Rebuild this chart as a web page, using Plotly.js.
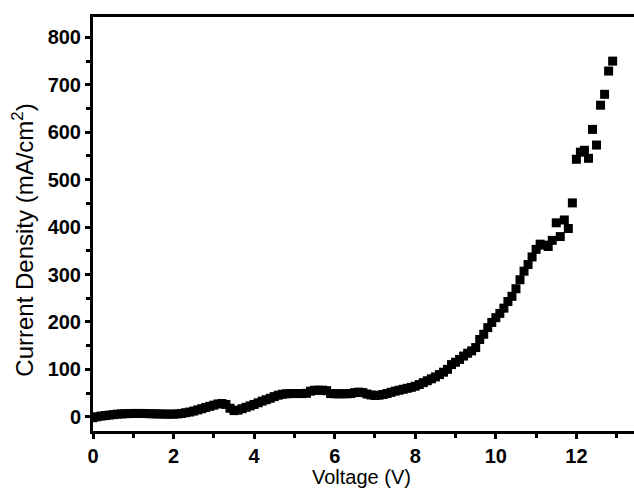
<!DOCTYPE html>
<html>
<head>
<meta charset="utf-8">
<script src="https://cdn.plot.ly/plotly-3.0.1.min.js"></script>
<style>html,body{margin:0;padding:0;background:#fff;}#chart{width:634px;height:489px;}</style>
</head>
<body>
<div id="chart"></div>
<script>
// Voltage (V)
const voltage = [
  0.0,0.1,0.2,0.3,0.4,0.5,0.6,0.7,0.8,0.9,
  1.0,1.1,1.2,1.3,1.4,1.5,1.6,1.7,1.8,1.9,
  2.0,2.1,2.2,2.3,2.4,2.5,2.6,2.7,2.8,2.9,
  3.0,3.1,3.2,3.3,3.4,3.5,3.6,3.7,3.8,3.9,
  4.0,4.1,4.2,4.3,4.4,4.5,4.6,4.7,4.8,4.9,
  5.0,5.1,5.2,5.3,5.4,5.5,5.6,5.7,5.8,5.9,
  6.0,6.1,6.2,6.3,6.4,6.5,6.6,6.7,6.8,6.9,
  7.0,7.1,7.2,7.3,7.4,7.5,7.6,7.7,7.8,7.9,
  8.0,8.1,8.2,8.3,8.4,8.5,8.6,8.7,8.8,8.9,
  9.0,9.1,9.2,9.3,9.4,9.5,9.6,9.7,9.8,9.9,
  10.0,10.1,10.2,10.3,10.4,10.5,10.6,10.7,10.8,10.9,
  11.0,11.1,11.2,11.3,11.4,11.5,11.6,11.7,11.8,11.9,
  12.0,12.1,12.2,12.3,12.4,12.5,12.6,12.7,12.8,12.9
];
// Current density (mA/cm^2)
const currentDensity = [
  -2,0,1.5,2.5,3.5,4.5,5.5,6,6.5,6.8,
  7,7,7,6.8,6.5,6.3,6,5.8,5.6,5.5,
  5.6,6,7,8.5,10,12,14.5,17,19.5,22,
  24.5,27,28,26,18,13,14,17,20,23,
  26,29.5,33,36,39,42.5,45.5,47.5,48.5,49,
  49,49,49,49.5,54,56,56,56,55,49,
  48.5,48.5,48.5,48.5,49,51,52,51,48,46,
  45,45.5,47,49,51.5,54,56,58,60,62,
  64.5,68,72,76,80,84,89,94,100,110,
  115,121,128,134,139,146,163,174,188,199,
  209,218,229,243,254,270,289,307,321,337,
  353,364,362,359,372,409,380,415,397,451,
  543,558,562,545,606,573,657,680,729,750
];
const xTicks = [0,2,4,6,8,10,12];
const yTicks = [0,100,200,300,400,500,600,700,800];
const xTitle = 'Voltage (V)';
const yTitle = 'Current Density (mA/cm<sup>2</sup>)';

const fam = 'Arial, "Liberation Sans", sans-serif';
const axisFont = {family: fam, size: 20, color: '#000', weight: 'bold'};

const trace = {
  x: voltage, y: currentDensity, type: 'scatter', mode: 'markers',
  marker: {symbol: 'square', size: 9, color: '#000', line: {width: 0}},
  showlegend: false, hoverinfo: 'skip'
};

const layout = {
  width: 634, height: 489,
  margin: {l: 93, r: 0, t: 17, b: 58},
  paper_bgcolor: '#fff', plot_bgcolor: '#fff',
  xaxis: {
    range: [0, 13.43], tickvals: xTicks, ticktext: xTicks.map(String),
    showgrid: false, zeroline: false,
    showline: true, linecolor: '#000', linewidth: 3, mirror: true,
    ticks: 'outside', ticklen: 5, tickwidth: 3, tickcolor: '#000',
    minor: {dtick: 1, ticks: 'outside', ticklen: 4, tickwidth: 3, tickcolor: '#000'},
    tickfont: axisFont
  },
  yaxis: {
    range: [-30, 843], tickvals: yTicks, ticktext: yTicks.map(String),
    showgrid: false, zeroline: false,
    showline: true, linecolor: '#000', linewidth: 3,
    ticks: 'outside', ticklen: 5, tickwidth: 3, tickcolor: '#000',
    minor: {dtick: 50, ticks: 'outside', ticklen: 4, tickwidth: 3, tickcolor: '#000'},
    tickfont: axisFont
  },
  annotations: [
    {
      text: yTitle, textangle: -90, showarrow: false,
      xref: 'paper', yref: 'paper', xanchor: 'center', yanchor: 'middle',
      x: -0.131, y: 0.46,
      font: {family: fam, size: 24, color: '#000'}
    },
    {
      text: xTitle, showarrow: false,
      xref: 'paper', yref: 'paper', xanchor: 'center', yanchor: 'middle',
      x: 0.497, y: -0.111,
      font: {family: fam, size: 20, color: '#000'}
    }
  ]
};

Plotly.newPlot('chart', [trace], layout, {staticPlot: true, displayModeBar: false});
</script>
</body>
</html>
